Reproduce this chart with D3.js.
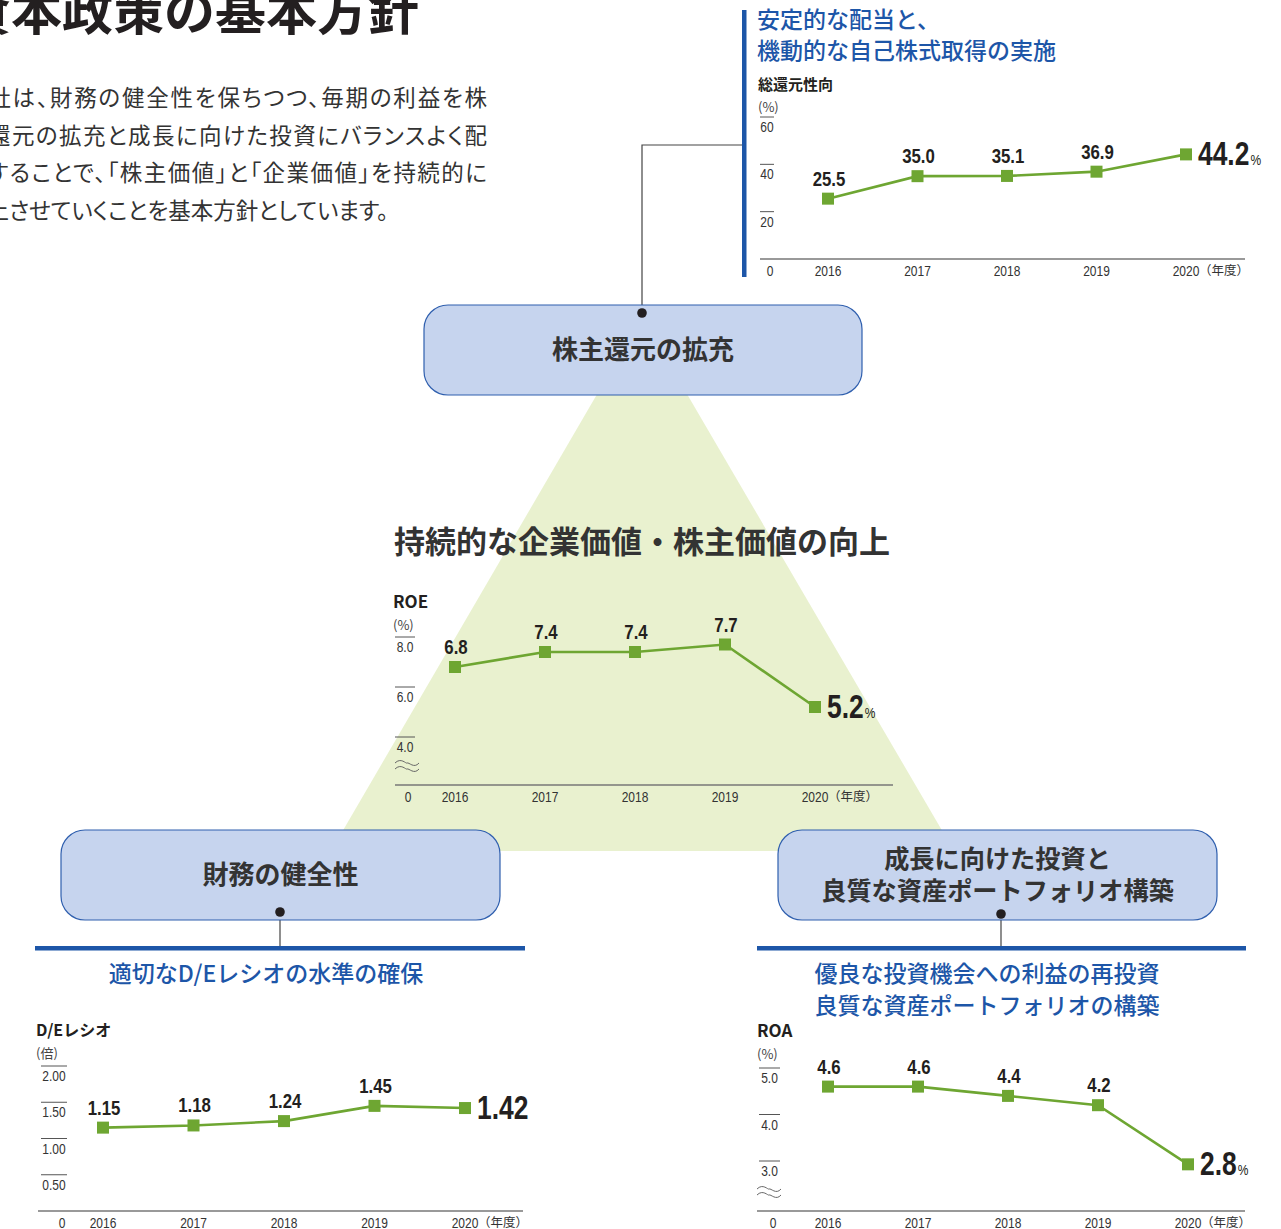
<!DOCTYPE html>
<html>
<head>
<meta charset="utf-8">
<script src="https://cdn.jsdelivr.net/npm/d3@7"></script>
<style>
  body { margin: 0; background: #fff; }
  svg { display: block; }
  .jp { font-family: "Noto Sans CJK JP", "Noto Sans", sans-serif; }
  .palt { font-feature-settings: "palt"; }
  .num { font-family: "Liberation Sans", Arial, sans-serif; }
</style>
</head>
<body>
<svg id="chart" width="1281" height="1229"></svg>
<script>
const years = ["2016", "2017", "2018", "2019", "2020"];

const payoutValues = [25.5, 35.0, 35.1, 36.9, 44.2];
const payoutTicks = [20, 40, 60];

const roeValues = [6.8, 7.4, 7.4, 7.7, 5.2];
const roeTicks = [4.0, 6.0, 8.0];

const deValues = [1.15, 1.18, 1.24, 1.45, 1.42];
const deTicks = [0.5, 1.0, 1.5, 2.0];

const roaValues = [4.6, 4.6, 4.4, 4.2, 2.8];
const roaTicks = [3.0, 4.0, 5.0];

const titleText = "資本政策の基本方針";
const introLines = [
  "当社は、財務の健全性を保ちつつ、毎期の利益を株",
  "主還元の拡充と成長に向けた投資にバランスよく配",
  "分することで、「株主価値」と「企業価値」を持続的に",
  "向上させていくことを基本方針としています。"
];

const GREEN = "#6ea632";
const BLUE = "#1d56a8";
const DARK = "#231f20";
const BOX_FILL = "#c6d4ee";
const BOX_STROKE = "#2f5fae";
const SQUEEZE = 0.8; // narrow the numerals like a condensed face

const svg = d3.select("#chart");

// number text placed at (fx, fy) and narrowed horizontally
function numText(sel, fx, fy) {
  return sel.attr("class", "num")
    .attr("transform", (d, i) => `translate(${fx(d, i)},${fy(d, i)}) scale(${SQUEEZE},1)`);
}

// ---- heading + intro text
svg.append("text").attr("class", "jp")
  .attr("x", -40).attr("y", 30)
  .attr("font-size", 51).attr("font-weight", 700)
  .attr("fill", DARK)
  .text(titleText);

introLines.forEach((line, i) => {
  const t = svg.append("text").attr("class", "jp palt")
    .attr("x", -36).attr("y", 106 + i * 37.5)
    .attr("font-size", 22.5).attr("fill", "#333")
    .text(line);
  if (i < 3) t.attr("textLength", 523).attr("lengthAdjust", "spacing");
});

// ---- triangle behind everything
const tri = d3.path();
tri.moveTo(642, 317); tri.lineTo(331, 851); tri.lineTo(954, 851); tri.closePath();
svg.append("path").attr("d", tri.toString()).attr("fill", "#e9f1cf");

// ---- connectors
const conn = svg.append("g").attr("stroke", "#444").attr("stroke-width", 1.2).attr("fill", "none");
conn.append("polyline").attr("points", "642,313 642,145 742,145");
conn.append("line").attr("x1", 280).attr("y1", 912).attr("x2", 280).attr("y2", 948);
conn.append("line").attr("x1", 1001).attr("y1", 914).attr("x2", 1001).attr("y2", 948);

// ---- boxes
function box(x, y, w, h, lines, size, dotX, dotY) {
  svg.append("rect").attr("x", x).attr("y", y).attr("width", w).attr("height", h)
    .attr("rx", 24).attr("fill", BOX_FILL).attr("stroke", BOX_STROKE).attr("stroke-width", 1.2);
  const cy = y + h / 2;
  lines.forEach((l, i) => {
    svg.append("text").attr("class", "jp")
      .attr("x", x + w / 2).attr("y", cy + 9 + (i - (lines.length - 1) / 2) * 32)
      .attr("text-anchor", "middle").attr("font-size", size).attr("font-weight", 700)
      .attr("fill", "#333").text(l);
  });
  svg.append("circle").attr("cx", dotX).attr("cy", dotY).attr("r", 4.8).attr("fill", DARK);
}
box(424, 305, 438, 90, ["株主還元の拡充"], 26, 642, 313);
box(61, 830, 439, 90, ["財務の健全性"], 26, 280, 912);
box(778, 830, 439, 90, ["成長に向けた投資と", "良質な資産ポートフォリオ構築"], 25.2, 1001, 914);

// ---- blue rules + blue headings
svg.append("rect").attr("x", 742).attr("y", 10).attr("width", 4.5).attr("height", 267).attr("fill", BLUE);
svg.append("rect").attr("x", 35).attr("y", 946).attr("width", 490).attr("height", 4.5).attr("fill", BLUE);
svg.append("rect").attr("x", 757).attr("y", 946).attr("width", 489).attr("height", 4.5).attr("fill", BLUE);

function blueText(x, y, s, anchor) {
  svg.append("text").attr("class", "jp").attr("x", x).attr("y", y)
    .attr("text-anchor", anchor).attr("font-size", 23).attr("font-weight", 500)
    .attr("fill", BLUE).text(s);
}
blueText(757, 28, "安定的な配当と、", "start");
blueText(757, 59, "機動的な自己株式取得の実施", "start");
blueText(266, 982, "適切なD/Eレシオの水準の確保", "middle");
blueText(987, 982, "優良な投資機会への利益の再投資", "middle");
blueText(987, 1014, "良質な資産ポートフォリオの構築", "middle");

svg.append("text").attr("class", "jp")
  .attr("x", 642).attr("y", 553).attr("text-anchor", "middle")
  .attr("font-size", 31).attr("font-weight", 700).attr("fill", "#333")
  .text("持続的な企業価値・株主価値の向上");

// ---- line chart helper
function lineChart(cfg) {
  const g = svg.append("g");
  const x = d3.scalePoint().domain(years).range(cfg.xRange);
  const y = d3.scaleLinear().domain(cfg.yDomain).range(cfg.yRange);
  const axisY = y(0);

  // title / unit
  g.append("text").attr("class", "jp").attr("x", cfg.titleX).attr("y", cfg.titleY)
    .attr("font-size", cfg.titleSize).attr("font-weight", 700).attr("fill", DARK).text(cfg.title);
  g.append("text").attr("class", "jp").attr("x", cfg.titleX).attr("y", cfg.titleY + 22)
    .attr("font-size", 13).attr("fill", "#444").text(cfg.unit);

  // y ticks: overline with label under it
  const tk = g.selectAll(".tk").data(cfg.ticks).enter().append("g");
  tk.append("line")
    .attr("x1", cfg.tickX[0]).attr("x2", cfg.tickX[1])
    .attr("y1", d => y(d)).attr("y2", d => y(d))
    .attr("stroke", "#555").attr("stroke-width", 1);
  numText(tk.append("text"), () => (cfg.tickX[0] + cfg.tickX[1]) / 2, d => y(d) + 15)
    .attr("text-anchor", "middle").attr("font-size", 15).attr("fill", "#333")
    .text(d => d3.format(cfg.tickFmt)(d));

  // baseline + zero
  g.append("line").attr("x1", cfg.axisX[0]).attr("x2", cfg.axisX[1])
    .attr("y1", axisY).attr("y2", axisY).attr("stroke", "#777").attr("stroke-width", 1.3);
  numText(g.append("text"), () => cfg.zeroX, () => axisY + 17)
    .attr("text-anchor", "middle").attr("font-size", 15).attr("fill", "#333").text("0");

  // axis break
  if (cfg.breakAt) {
    const [bx, by] = cfg.breakAt;
    [0, 6].forEach(off => {
      const p = d3.path();
      p.moveTo(bx, by + off);
      p.bezierCurveTo(bx + 6, by + off - 6, bx + 11, by + off + 1, bx + 12, by + off);
      p.bezierCurveTo(bx + 14, by + off - 1, bx + 19, by + off + 6, bx + 24, by + off);
      g.append("path").attr("d", p.toString()).attr("fill", "none")
        .attr("stroke", "#666").attr("stroke-width", 1);
    });
  }

  // year labels
  numText(g.selectAll(".yr").data(years).enter().append("text"), d => x(d), () => axisY + 17)
    .attr("text-anchor", "middle").attr("font-size", 15).attr("fill", "#333").text(d => d);
  g.append("text").attr("class", "jp")
    .attr("x", x(years[4]) + 13).attr("y", axisY + 16)
    .attr("font-size", 12.5).attr("fill", "#333").text("（年度）");

  const pts = years.map((yr, i) => ({ yr, v: cfg.values[i] }));

  g.append("path").datum(pts)
    .attr("d", d3.line().x(d => x(d.yr)).y(d => y(d.v)))
    .attr("fill", "none").attr("stroke", GREEN).attr("stroke-width", 2.6);

  g.selectAll(".mk").data(pts).enter().append("rect")
    .attr("x", d => x(d.yr) - 6).attr("y", d => y(d.v) - 6)
    .attr("width", 12).attr("height", 12).attr("fill", GREEN);

  const fmt = d3.format(cfg.valFmt);
  numText(g.selectAll(".vl").data(pts.slice(0, 4)).enter().append("text"),
      d => x(d.yr) + 1, d => y(d.v) - 13)
    .attr("text-anchor", "middle").attr("font-size", 21).attr("font-weight", 700)
    .attr("fill", DARK).text(d => fmt(d.v));

  // highlighted latest value, unit as its own small text
  const last = pts[4];
  const lx = x(last.yr) + 12, ly = y(last.v) + 11;
  const lt = numText(g.append("text"), () => lx, () => ly)
    .attr("font-size", 33).attr("font-weight", 700).attr("fill", DARK)
    .text(fmt(last.v));
  if (cfg.lastUnit) {
    const w = lt.node().getComputedTextLength() * SQUEEZE;
    numText(g.append("text"), () => lx + w + 1, () => ly)
      .attr("font-size", 15).attr("fill", DARK).text(cfg.lastUnit);
  }
}

lineChart({
  title: "総還元性向", titleX: 758, titleY: 90, titleSize: 15, unit: "(%)",
  values: payoutValues, ticks: payoutTicks, tickFmt: "d", valFmt: ".1f", lastUnit: "%",
  xRange: [828, 1186], yDomain: [0, 60], yRange: [259, 117],
  tickX: [760, 774], axisX: [760, 1245], zeroX: 770
});

lineChart({
  title: "ROE", titleX: 393, titleY: 608, titleSize: 17, unit: "(%)",
  values: roeValues, ticks: roeTicks, tickFmt: ".1f", valFmt: ".1f", lastUnit: "%",
  xRange: [455, 815], yDomain: [0, 4, 8], yRange: [785, 737, 637],
  tickX: [395, 415], axisX: [395, 893], zeroX: 408, breakAt: [395, 763]
});

lineChart({
  title: "D/Eレシオ", titleX: 36, titleY: 1036, titleSize: 16, unit: "(倍)",
  values: deValues, ticks: deTicks, tickFmt: ".2f", valFmt: ".2f", lastUnit: "",
  xRange: [103, 465], yDomain: [0, 2], yRange: [1211, 1066],
  tickX: [41, 67], axisX: [38, 523], zeroX: 62
});

lineChart({
  title: "ROA", titleX: 757, titleY: 1037, titleSize: 17, unit: "(%)",
  values: roaValues, ticks: roaTicks, tickFmt: ".1f", valFmt: ".1f", lastUnit: "%",
  xRange: [828, 1188], yDomain: [0, 3, 5], yRange: [1211, 1161, 1068],
  tickX: [759, 780], axisX: [757, 1245], zeroX: 773, breakAt: [757, 1189]
});
</script>
</body>
</html>
